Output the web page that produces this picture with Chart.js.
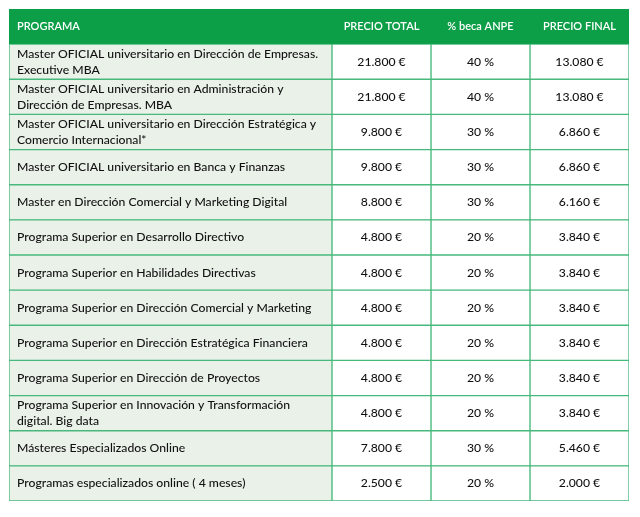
<!DOCTYPE html>
<html>
<head>
<meta charset="utf-8">
<script src="https://cdn.jsdelivr.net/npm/chart.js@4"></script>
<style>
  body { margin: 0; background: #fff; }
  #wrap { width: 640px; height: 517px; }
</style>
</head>
<body>
<div id="wrap"><canvas id="myChart" width="640" height="517"></canvas></div>
<script>
// table content
const headers = ['PROGRAMA', 'PRECIO TOTAL', '% beca ANPE', 'PRECIO FINAL'];
const programas = [
	'Master OFICIAL universitario en Dirección de Empresas.\nExecutive MBA',
	'Master OFICIAL universitario en Administración y\nDirección de Empresas. MBA',
	'Master OFICIAL universitario en Dirección Estratégica y\nComercio Internacional*',
	'Master OFICIAL universitario en Banca y Finanzas',
	'Master en Dirección Comercial y Marketing Digital',
	'Programa Superior en Desarrollo Directivo',
	'Programa Superior en Habilidades Directivas',
	'Programa Superior en Dirección Comercial y Marketing',
	'Programa Superior en Dirección Estratégica Financiera',
	'Programa Superior en Dirección de Proyectos',
	'Programa Superior en Innovación y Transformación\ndigital. Big data',
	'Másteres Especializados Online',
	'Programas especializados online ( 4 meses)'
];
const precioTotal = [21800, 21800, 9800, 9800, 8800, 4800, 4800, 4800, 4800, 4800, 4800, 7800, 2500];
const becaANPE = [40, 40, 30, 30, 30, 20, 20, 20, 20, 20, 20, 30, 20];
const precioFinal = [13080, 13080, 6860, 6860, 6160, 3840, 3840, 3840, 3840, 3840, 3840, 5460, 2000];

// layout (x units for the column edges)
const colEdges = [0, 323, 422, 521, 620];
const GREEN = '#0c9f48';
const LINE = '#48b97c';
const FIRSTCOL = '#e9f1e8';
const FONT = 'Lato, "Open Sans", sans-serif';

function euros(v){
	return v.toLocaleString('de-DE') + ' €';
}

const rowLabels = ['header'].concat(programas);
const cellText = [
	[headers[0]].concat(programas),
	[headers[1]].concat(precioTotal.map(euros)),
	[headers[2]].concat(becaANPE.map(v => v + ' %')),
	[headers[3]].concat(precioFinal.map(euros))
];

let datasets = [];
for (let c = 0; c < 4; c++) {
	datasets.push({
		label: headers[c],
		data: rowLabels.map(() => [colEdges[c], colEdges[c + 1]]),
		backgroundColor: rowLabels.map((r, i) => i == 0 ? GREEN : (c == 0 ? FIRSTCOL : '#ffffff')),
		borderColor: rowLabels.map((r, i) => i == 0 ? GREEN : LINE),
		borderWidth: 1,
		borderSkipped: false,
		barPercentage: 1,
		categoryPercentage: 1,
		grouped: false
	});
}

const cellLabels = {
	id: 'cellLabels',
	afterDatasetsDraw(chart) {
		const ctx = chart.ctx;
		ctx.save();
		ctx.textBaseline = 'middle';
		chart.data.datasets.forEach((ds, c) => {
			const meta = chart.getDatasetMeta(c);
			meta.data.forEach((bar, i) => {
				const left = Math.min(bar.x, bar.base);
				const right = Math.max(bar.x, bar.base);
				const lines = cellText[c][i].split('\n');
				if (i == 0) {
					ctx.fillStyle = '#ffffff';
					ctx.font = '600 11px ' + FONT;
				} else {
					ctx.fillStyle = '#111111';
					ctx.font = '500 12.2px ' + FONT;
				}
				let x;
				if (c == 0) { ctx.textAlign = 'left'; x = left + 8; }
				else { ctx.textAlign = 'center'; x = (left + right) / 2; }
				const lh = 16;
				lines.forEach((t, k) => {
					ctx.fillText(t, x, bar.y + (k - (lines.length - 1) / 2) * lh);
				});
			});
		});
		ctx.restore();
	}
};

const config = {
	type: 'bar',
	data: { labels: rowLabels, datasets: datasets },
	options: {
		indexAxis: 'y',
		responsive: false,
		animation: false,
		layout: { padding: { left: 9, right: 11, top: 9, bottom: 16 } },
		plugins: { legend: { display: false }, tooltip: { enabled: false } },
		scales: {
			x: { type: 'linear', min: colEdges[0], max: colEdges[4], display: false },
			y: { type: 'category', display: false, offset: true }
		}
	},
	plugins: [cellLabels]
};

const myChart = new Chart(document.getElementById('myChart'), config);
</script>
</body>
</html>
